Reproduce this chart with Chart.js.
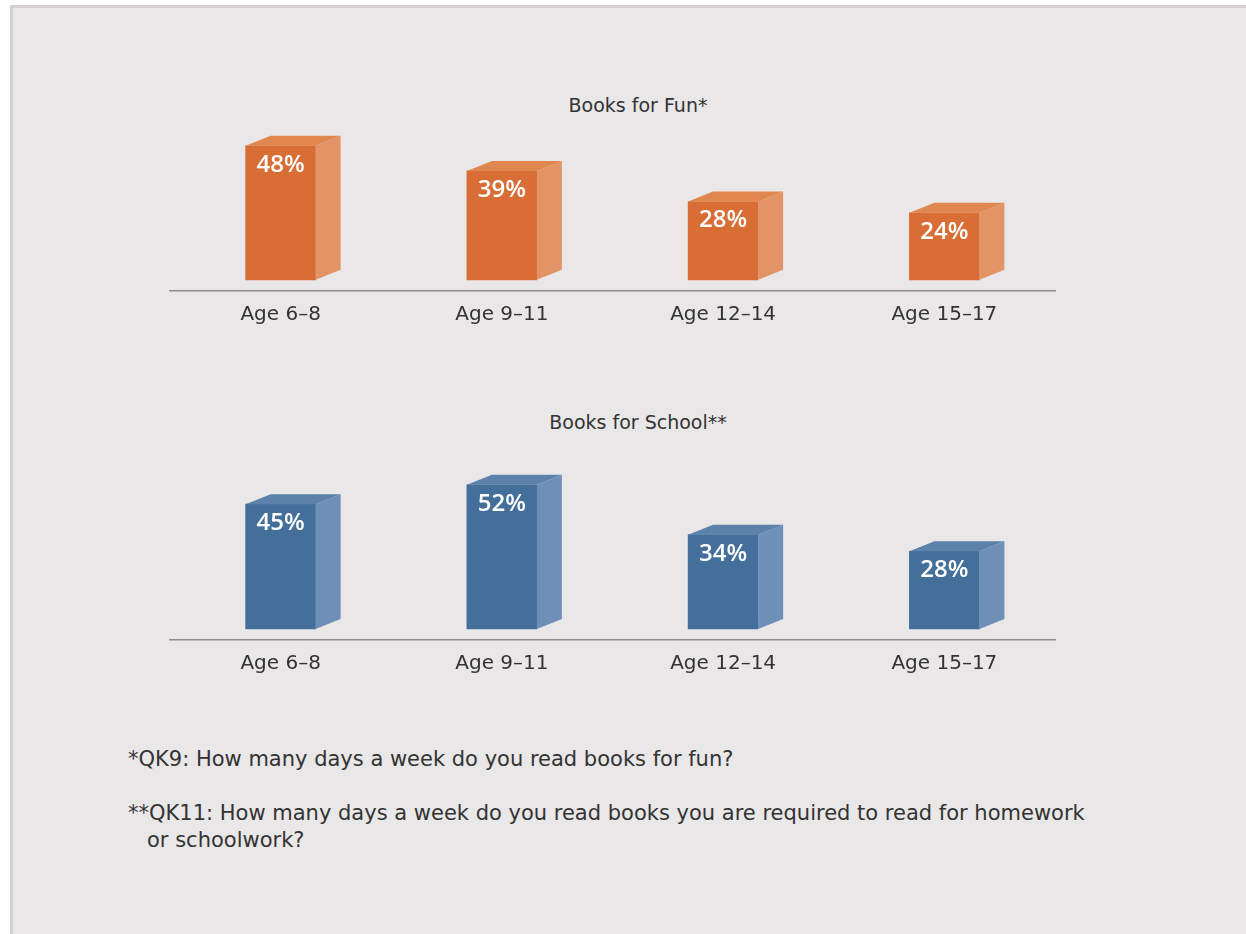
<!DOCTYPE html>
<html>
<head>
<meta charset="utf-8">
<script src="https://cdn.jsdelivr.net/npm/chart.js@4.4.1/dist/chart.umd.min.js"></script>
<style>
  body { margin: 0; background: #ffffff; width: 1246px; height: 934px; overflow: hidden; position: relative; }
  #frame { position: absolute; left: 10px; top: 5px; width: 1246px; height: 940px; background: #eae7e8;
           border-left: 3px solid #d6ced1; border-top: 3px solid #d6ced1; }
  .wrap { position: absolute; left: 0; width: 1246px; }
  .title { position: absolute; left: 438px; width: 400px; text-align: center; font-family: "DejaVu Sans", sans-serif;
           font-size: 19px; line-height: 23px; color: #333333; }
  .note { position: absolute; left: 128px; font-family: "DejaVu Sans", sans-serif; font-size: 21px; color: #333333; line-height: 27px; }
</style>
</head>
<body>
<div id="frame"></div>
<div class="title" style="top:94px">Books for Fun*</div>
<div class="title" style="top:411px">Books for School**</div>
<div class="wrap" style="top:80px;height:259px"><canvas id="funChart"></canvas></div>
<div class="wrap" style="top:397px;height:291px"><canvas id="schoolChart"></canvas></div>
<div class="note" style="top:746px">*QK9: How many days a week do you read books for fun?</div>
<div class="note" style="top:800px">**QK11: How many days a week do you read books you are required to read for homework<br><span style="padding-left:19px">or schoolwork?</span></div>
<script>
const categories = ['Age 6–8', 'Age 9–11', 'Age 12–14', 'Age 15–17'];
const funValues = [48, 39, 28, 24];
const schoolValues = [45, 52, 34, 28];

const orange = { front: '#d86e35', side: '#e29467', top: '#e0874f' };
const blue = { front: '#446f9a', side: '#6e90b7', top: '#5c82ab' };

// draws the side and top of each bar so it looks like a box, plus the % label
const box3d = {
    id: 'box3d',
    afterDatasetsDraw(chart, args, opts) {
        const ctx = chart.ctx;
        const meta = chart.getDatasetMeta(0);
        const data = chart.data.datasets[0].data;
        meta.data.forEach(function (bar, i) {
            const left = bar.x - bar.width / 2;
            const right = bar.x + bar.width / 2;
            const dx = 25, dy = 10;
            ctx.save();
            ctx.fillStyle = opts.side;
            ctx.beginPath();
            ctx.moveTo(right, bar.y);
            ctx.lineTo(right + dx, bar.y - dy);
            ctx.lineTo(right + dx, bar.base - dy);
            ctx.lineTo(right, bar.base);
            ctx.closePath();
            ctx.fill();
            ctx.fillStyle = opts.top;
            ctx.beginPath();
            ctx.moveTo(left, bar.y);
            ctx.lineTo(left + dx, bar.y - dy);
            ctx.lineTo(right + dx, bar.y - dy);
            ctx.lineTo(right, bar.y);
            ctx.closePath();
            ctx.fill();
            ctx.fillStyle = '#ffffff';
            ctx.font = '600 24px "Open Sans"';
            ctx.textAlign = 'center';
            ctx.textBaseline = 'middle';
            ctx.fillText(data[i] + '%', bar.x, bar.y + 19);
            ctx.restore();
        });
    }
};

function makeChart(id, values, colors, maxY) {
    return new Chart(document.getElementById(id), {
        type: 'bar',
        data: {
            labels: categories,
            datasets: [{ data: values, backgroundColor: colors.front, barThickness: 70 }]
        },
        options: {
            responsive: true,
            maintainAspectRatio: false,
            animation: false,
            layout: { padding: { left: 170, right: 191, top: 49, bottom: 0 } },
            plugins: {
                legend: { display: false },
                tooltip: { enabled: false },
                box3d: colors
            },
            scales: {
                x: {
                    grid: { display: false, drawTicks: false },
                    border: { display: true, color: '#8c8c8c', width: 1.5 },
                    ticks: { color: '#333333', padding: 12, font: { family: 'DejaVu Sans', size: 20 } }
                },
                y: { display: false, min: -4, max: maxY }
            }
        },
        plugins: [box3d]
    });
}

makeChart('funChart', funValues, orange, 54);
makeChart('schoolChart', schoolValues, blue, 66);
</script>
</body>
</html>
